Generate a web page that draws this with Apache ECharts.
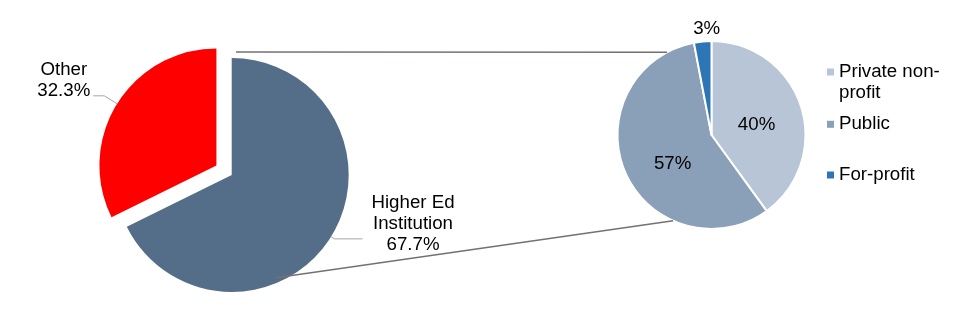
<!DOCTYPE html>
<html>
<head>
<meta charset="utf-8">
<style>
  html, body { margin: 0; padding: 0; background: #fff; }
  #chart { width: 957px; height: 329px; }
</style>
<script src="https://cdn.jsdelivr.net/npm/echarts@6/dist/echarts.min.js"></script>
</head>
<body>
<div id="chart"></div>
<script>
// ---- data ----
const leftCategories = ['Higher Ed Institution', 'Other'];
const leftValues = [67.7, 32.3];
const leftLabels = ['Higher Ed\nInstitution\n67.7%', 'Other\n32.3%'];

const rightCategories = ['Private non-profit', 'Public', 'For-profit'];
const rightValues = [40, 57, 3];
const rightLabels = ['40%', '57%', '3%'];
const legendLabels = ['\nPrivate non-\nprofit', 'Public', 'For-profit'];

// ---- style / layout ----
const leftColors = ['#546E8A', '#FF0000'];
const rightColors = ['#B7C5D6', '#8A9FB8', '#2E75B6'];
const LC = [231.7, 175], LR = 117;
const RC = [711.5, 135], RR = 94;
const EXPLODE = 18;
const FONT = 'Liberation Sans, Arial, sans-serif';
const FS = 18.7;
const labelLineLen = [[4, 28], [15, 11]];
const rightNudge = [[-2.5, 5.5], [7, 8.5], [0, 0]];

function polar(c, r, deg) {
  const a = deg * Math.PI / 180;
  return [c[0] + r * Math.sin(a), c[1] - r * Math.cos(a)];
}
const topL = polar(LC, 123, 2), topR = polar(RC, RR, 331.8);
const botL = polar(LC, 112, 156.7), botR = polar(RC, RR, 204.1);

// exploded slice centre: moved along the mid angle of the "Other" slice
const leftSum = leftValues.reduce((a, b) => a + b, 0);
const otherMid = 360 * (leftValues[0] + leftValues[1] / 2) / leftSum;
const LC2 = polar(LC, EXPLODE, otherMid);

const chart = echarts.init(document.getElementById('chart'), null, { renderer: 'canvas' });

const legendBase = {
  left: 827, padding: 0, icon: 'rect', itemWidth: 7, itemHeight: 7,
  selectedMode: false,
  itemStyle: { borderWidth: 0 },
  textStyle: { fontSize: FS, lineHeight: 21, color: '#000', fontFamily: FONT }
};

const transparent = 'rgba(0,0,0,0)';
const hiddenLabel = { show: false };
const hiddenLine = { show: false };

function leftLabelLayout(center) {
  return function (p) {
    const pts = p.labelLinePoints;
    if (!pts) return {};
    const end = pts[2];
    const w = p.labelRect.width;
    const right = end[0] > center[0];
    return {
      x: right ? end[0] + 9 + w / 2 : end[0] - 3 - w / 2,
      y: end[1] - 15.5,
      align: 'center', verticalAlign: 'middle',
      labelLinePoints: pts
    };
  };
}

function leftSeries(center, visibleIndex) {
  return {
    type: 'pie',
    center: center, radius: LR,
    startAngle: 90, clockwise: true,
    silent: true,
    data: leftCategories.map((n, i) => ({
      name: n, value: leftValues[i],
      itemStyle: { color: i === visibleIndex ? leftColors[i] : transparent },
      label: i === visibleIndex ? {} : hiddenLabel,
      labelLine: i === visibleIndex
        ? { show: true, length: labelLineLen[i][0], length2: labelLineLen[i][1] }
        : hiddenLine
    })),
    label: {
      show: true, position: 'outside',
      formatter: p => leftLabels[p.dataIndex],
      fontSize: FS, lineHeight: 21, color: '#000', fontFamily: FONT
    },
    labelLine: { show: true, lineStyle: { color: '#A6A6A6', width: 1 } },
    labelLayout: leftLabelLayout(center)
  };
}

const option = {
  animation: false,
  backgroundColor: '#fff',
  textStyle: { fontFamily: FONT },
  legend: [
    Object.assign({}, legendBase, { data: [rightCategories[0]], top: 40.5, formatter: () => legendLabels[0] }),
    Object.assign({}, legendBase, { data: [rightCategories[1]], top: 113.8, formatter: () => legendLabels[1] }),
    Object.assign({}, legendBase, { data: [rightCategories[2]], top: 164.5, formatter: () => legendLabels[2] })
  ],
  graphic: [
    { type: 'line', z: 100, shape: { x1: topL[0], y1: topL[1], x2: topR[0], y2: topR[1] },
      style: { stroke: '#767171', lineWidth: 1.5 } },
    { type: 'line', z: 100, shape: { x1: botL[0], y1: botL[1], x2: botR[0], y2: botR[1] },
      style: { stroke: '#767171', lineWidth: 1.5 } }
  ],
  series: [
    leftSeries(LC, 0),
    leftSeries(LC2, 1),
    {
      type: 'pie',
      center: RC, radius: RR,
      startAngle: 90, clockwise: true,
      silent: true,
      itemStyle: { borderColor: '#fff', borderWidth: 2 },
      data: rightCategories.map((n, i) => ({
        name: n, value: rightValues[i], itemStyle: { color: rightColors[i] }
      })),
      label: {
        show: true, position: 'inside',
        formatter: p => rightLabels[p.dataIndex],
        fontSize: FS, color: '#000', fontFamily: FONT
      },
      labelLine: { show: false },
      labelLayout: function (p) {
        if (p.dataIndex === 2) {
          return { x: p.rect.x + p.rect.width / 2 + 4, y: p.rect.y - 11, align: 'center', verticalAlign: 'middle' };
        }
        const n = rightNudge[p.dataIndex];
        return {
          x: p.labelRect.x + p.labelRect.width / 2 + n[0],
          y: p.labelRect.y + p.labelRect.height / 2 + n[1],
          align: 'center', verticalAlign: 'middle'
        };
      }
    }
  ]
};
chart.setOption(option);
</script>
</body>
</html>
